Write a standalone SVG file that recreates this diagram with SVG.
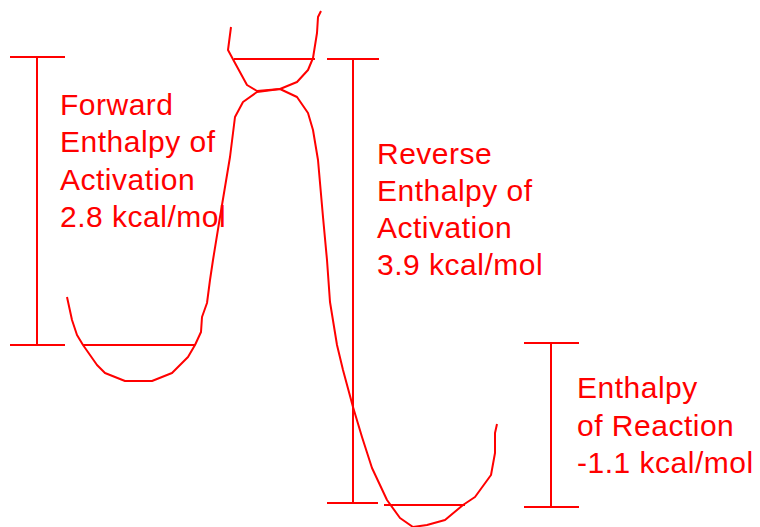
<svg xmlns="http://www.w3.org/2000/svg" width="760" height="527" viewBox="0 0 760 527">
<style>
.s{fill:none;stroke:#ff0000;stroke-width:2;stroke-linejoin:round;stroke-linecap:butt}
.t{fill:#ff0000;font-family:"Liberation Sans",Arial,sans-serif;font-size:30px;letter-spacing:0.5px}
</style>
<rect width="760" height="527" fill="#ffffff"/>
<g id="curve">
<polyline class="s" points="67,297 72,320 77,335 83,345 97,365 105,373 125,381 152,381 172,373 188,357 195,345 201,332 202,317 207,303 210,280 213,260 220,217 230,157 235,117 243,102 257,92 280,89 297,97 308,113 313,130 318,160 323,217 327,260 330,302 337,345 343,370 353,407 362,437 372,468 387,500 400,518 413,527 427,525 445,520 463,505 475,497 491,475 495,453 495,433 497,424"/>
<polyline class="s" points="231,27 228,50 235,63 247,85 257,91 280,89 297,82 308,70 313,58 317,33 318,17 321,11"/>
</g>
<g id="levels">
<line class="s" x1="234" y1="59" x2="315" y2="59"/>
<line class="s" x1="83" y1="345" x2="195" y2="345"/>
<line class="s" x1="384" y1="505" x2="465" y2="505"/>
</g>
<g id="forward">
<path class="s" d="M10,57H65M37,57V345M10,345H65"/>
<text class="t" x="60" y="115">Forward</text>
<text class="t" x="60" y="152">Enthalpy of</text>
<text class="t" x="60" y="190">Activation</text>
<text class="t" x="60" y="227">2.8 kcal/mol</text>
</g>
<g id="reverse">
<path class="s" d="M327,59H379M353,59V503M327,503H378"/>
<text class="t" x="377" y="164">Reverse</text>
<text class="t" x="377" y="201">Enthalpy of</text>
<text class="t" x="377" y="238">Activation</text>
<text class="t" x="377" y="275">3.9 kcal/mol</text>
</g>
<g id="reaction">
<path class="s" d="M524,343H579M551,343V507M524,507H579"/>
<text class="t" x="577" y="398">Enthalpy</text>
<text class="t" x="577" y="436">of Reaction</text>
<text class="t" x="577" y="473">-1.1 kcal/mol</text>
</g>
</svg>
